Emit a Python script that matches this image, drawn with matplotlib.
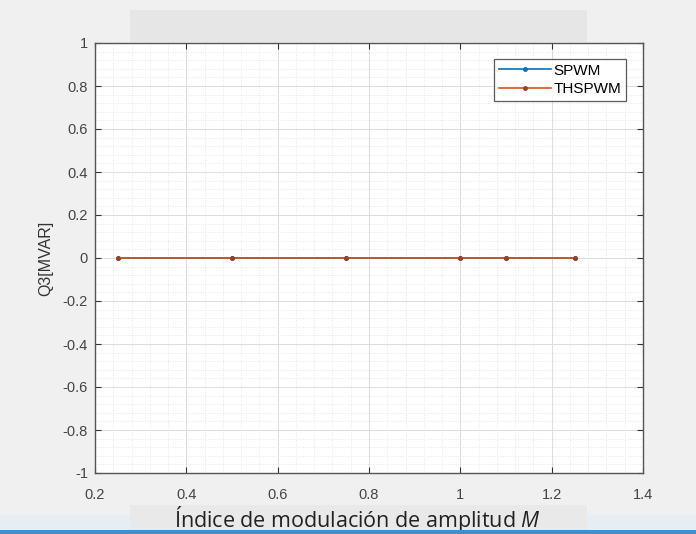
import matplotlib
matplotlib.use("Agg")
import matplotlib.pyplot as plt
from matplotlib.patches import Rectangle
from matplotlib.ticker import MultipleLocator, FuncFormatter

plt.rcParams["mathtext.fontset"] = "custom"
plt.rcParams["mathtext.rm"] = "Open Sans"
plt.rcParams["mathtext.it"] = "Open Sans:italic"

# Reactive power Q3 versus amplitude modulation index
m_index = [0.25, 0.5, 0.75, 1.0, 1.1, 1.25]
q3_spwm = [0, 0, 0, 0, 0, 0]
q3_thspwm = [0, 0, 0, 0, 0, 0]

W, H = 696, 534
fig = plt.figure(figsize=(W / 100, H / 100), dpi=100, facecolor="#f0f0f0")


def band(x0, y0, x1, y1, color, z=-5):
    fig.add_artist(Rectangle((x0 / W, 1 - y1 / H), (x1 - x0) / W, (y1 - y0) / H,
                             transform=fig.transFigure, facecolor=color,
                             edgecolor="none", zorder=z))


# window-like background panels
band(0, 515, 696, 530, "#e6edf3")
band(130, 10, 587, 42, "#e6e6e6")
band(130, 505, 587, 531, "#e9e9e9")

ax = fig.add_axes([95 / W, 1 - 473 / H, (643 - 95) / W, (473 - 43) / H])
ax.set_facecolor("white")

ax.plot(m_index, q3_spwm, color="#0072BD", lw=1.2, marker=".", ms=5, label="SPWM")
ax.plot(m_index, q3_thspwm, color="#D95319", lw=1.2, marker=".", ms=5,
        mfc="#a04020", mec="#a04020", label="THSPWM")

ax.set_xlim(0.2, 1.4)
ax.set_ylim(-1, 1)
ax.xaxis.set_major_locator(MultipleLocator(0.2))
ax.yaxis.set_major_locator(MultipleLocator(0.2))
ax.xaxis.set_minor_locator(MultipleLocator(0.04))
ax.yaxis.set_minor_locator(MultipleLocator(0.04))
fmt = FuncFormatter(lambda v, p: f"{round(v, 6) + 0:g}")
ax.xaxis.set_major_formatter(fmt)
ax.yaxis.set_major_formatter(fmt)

ax.grid(which="major", color="#dcdcdc", lw=0.7, ls="-")
ax.grid(which="minor", color="#e0e0e0", lw=0.6, ls=(0, (1, 2)))
ax.set_axisbelow(True)

ax.tick_params(which="major", direction="in", length=4, width=0.8, color="#333333",
               labelsize=10.5, labelcolor="#444444", top=True, right=True)
ax.tick_params(axis="x", which="major", pad=11)
ax.tick_params(axis="y", which="major", pad=5)
ax.tick_params(which="minor", length=0, top=True, right=True)
for lab in ax.get_xticklabels() + ax.get_yticklabels():
    lab.set_family("Liberation Sans")
for s in ax.spines.values():
    s.set_color("#555555")
    s.set_linewidth(1.0)

ax.set_ylabel("Q3[MVAR]", fontsize=11.5, family="Liberation Sans", color="#333333",
              labelpad=7)

fig.text(357 / W, 1 - 527 / H, "Índice de modulación de amplitud $M$",
         fontsize=15.5, family="Open Sans", color="#222222",
         ha="center", va="baseline", zorder=3)
band(0, 530, 696, 534, "#3c8fd0", z=4)

leg = ax.legend(loc="upper right", bbox_to_anchor=(1 - 17 / 548, 1 - 16 / 430),
                frameon=True, fancybox=False, edgecolor="#333333",
                handlelength=3.4, handletextpad=0.2, borderpad=0.3,
                labelspacing=0.3, borderaxespad=0,
                prop={"family": "Liberation Sans", "size": 11})
leg.get_frame().set_linewidth(0.9)

fig.savefig("out.png", dpi=100, facecolor=fig.get_facecolor())
